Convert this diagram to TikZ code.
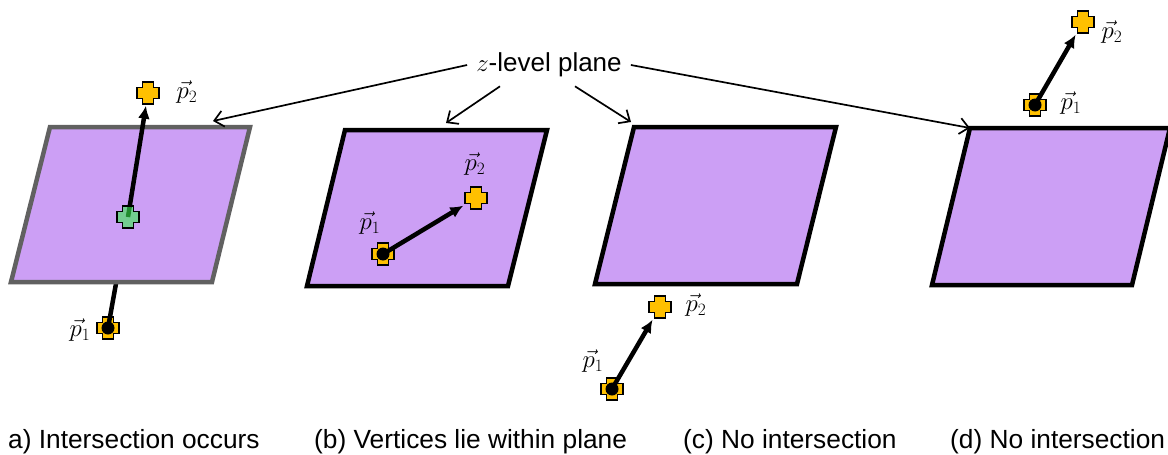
\documentclass[tikz,border=0pt]{standalone}
\usepackage{amsmath,fontspec}
\setmainfont{Liberation Sans}
\usetikzlibrary{arrows.meta}
\definecolor{planefill}{RGB}{204,159,245}
\definecolor{ptorange}{RGB}{255,192,0}
\definecolor{ptgreen}{RGB}{56,234,78}
\tikzset{
  plane/.style={fill=planefill,draw=black,line width=4.5pt,line join=miter},
  ptnode/.style={rectangle,minimum size=25pt,inner sep=0pt,path picture={
    \filldraw[fill=#1,draw=black,line width=1.3pt] (path picture bounding box.center) ++(-5.5pt,-11pt) -- ++(11pt,0pt) -- ++(0pt,5.5pt) -- ++(5.5pt,0pt) -- ++(0pt,11pt) -- ++(-5.5pt,0pt) -- ++(0pt,5.5pt) -- ++(-11pt,0pt) -- ++(0pt,-5.5pt) -- ++(-5.5pt,0pt) -- ++(0pt,-11pt) -- ++(5.5pt,0pt) -- cycle;}},
  ptnode/.default=ptorange,
  vecline/.style={line width=4.5pt,-{Latex[length=13pt,width=12pt]}},
  lblarrow/.style={line width=1.7pt,-{Straight Barb[length=9pt,width=16pt,line width=1.7pt]}},
  veclbl/.style={font=\fontsize{25}{30}\selectfont,inner sep=0pt},
  caption/.style={font=\fontsize{26.3}{30}\selectfont,anchor=base west,inner sep=0pt}
}
\begin{document}
\begin{tikzpicture}[x=1pt,y=-1pt]
\useasboundingbox (0,0) rectangle (1168,455);
% (a) segment crosses the plane
\node[ptnode] (ap1) at (108,328) {}; \node[ptnode] (ap2) at (148,93) {};
\coordinate (ahit) at (128,217);
\draw[line width=4.5pt] (ap1.center) -- (ahit);
\filldraw[plane,draw=black!62] (50,127) coordinate (atl) -- (250,127) coordinate (atr) -- (212,282) -- (11,282) -- cycle;
\draw[vecline] (ahit) -- (ap2);
\node[ptnode=ptgreen,fill opacity=0.6] (ag) at (ahit) {};
\fill (ap1) circle (6.5pt);
\node[veclbl] (ap1l) at (80,330) {$\vec{p}_1$}; \node[veclbl] (ap2l) at (187,92) {$\vec{p}_2$};
% (b) both vertices in the plane
\filldraw[plane] (345,130) coordinate (btl) -- (547,130) -- (508,286) -- (307,286) -- cycle;
\coordinate (btm) at (446,130);
\node[ptnode] (bp1) at (383,254) {}; \node[ptnode] (bp2) at (476,198) {};
\draw[vecline] (bp1.center) -- (bp2); \fill (bp1) circle (6.5pt);
\node[veclbl] (bp1l) at (370,223) {$\vec{p}_1$}; \node[veclbl] (bp2l) at (475,164) {$\vec{p}_2$};
% (c) below the plane
\filldraw[plane] (634,127) coordinate (ctl) -- (836,127) -- (797,284) -- (595,284) -- cycle;
\node[ptnode] (cp1) at (612,389) {}; \node[ptnode] (cp2) at (660,307) {};
\draw[vecline] (cp1.center) -- (cp2); \fill (cp1) circle (6.5pt);
\node[veclbl] (cp1l) at (593,361) {$\vec{p}_1$}; \node[veclbl] (cp2l) at (696,305) {$\vec{p}_2$};
% (d) above the plane
\filldraw[plane] (970,128) coordinate (dtl) -- (1170,128) -- (1132,285) -- (932,285) -- cycle;
\node[ptnode] (dp1) at (1035,105) {}; \node[ptnode] (dp2) at (1083,22) {};
\draw[vecline] (dp1.center) -- (dp2); \fill (dp1) circle (6.5pt);
\node[veclbl] (dp1l) at (1071,103) {$\vec{p}_1$}; \node[veclbl] (dp2l) at (1112,32) {$\vec{p}_2$};
% plane label
\node[font=\fontsize{26}{30}\selectfont,inner sep=9pt] (title) at (549,65) {$z$-level plane};
\draw[lblarrow] (title.west) -- ([shift={(-37,-6)}]atr);
\draw[lblarrow] ([xshift=-49pt]title.south) -- ([yshift=7pt]btm);
\draw[lblarrow] ([xshift=26pt]title.south) -- ([shift={(-3,-5)}]ctl);
\draw[lblarrow] (title.east) -- (dtl);
% captions
\foreach \x/\t in {8/{a) Intersection occurs},314/{(b) Vertices lie within plane},683/{(c) No intersection},950/{(d) No intersection}}
  \node[caption] at (\x,448) {\t};
\end{tikzpicture}
\end{document}
